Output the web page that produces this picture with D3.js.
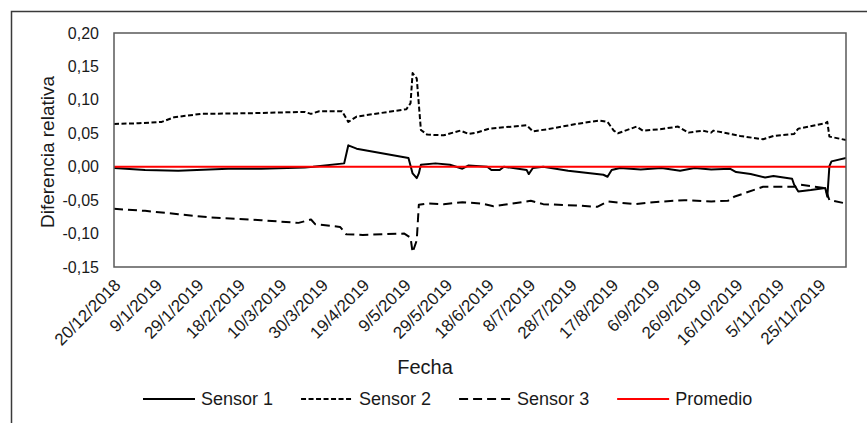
<!DOCTYPE html>
<html>
<head>
<meta charset="utf-8">
<script src="https://cdn.jsdelivr.net/npm/d3@7"></script>
<style>
    body { margin: 0; background: #fff; }
    svg { display: block; font-family: "Liberation Sans", Arial, sans-serif; }
</style>
</head>
<body>
<svg id="chart" width="867" height="423"></svg>
<script>
// Data (date, value)
const sensor1Dates = ['2018-12-20','2019-01-04','2019-01-20','2019-02-13','2019-03-01','2019-03-22','2019-03-26','2019-04-10','2019-04-12','2019-04-16','2019-05-11','2019-05-13','2019-05-15','2019-05-16','2019-05-17','2019-05-24','2019-05-31','2019-06-06','2019-06-09','2019-06-18','2019-06-20','2019-06-24','2019-06-26','2019-07-07','2019-07-08','2019-07-10','2019-07-15','2019-07-27','2019-08-13','2019-08-15','2019-08-17','2019-08-21','2019-08-31','2019-09-10','2019-09-19','2019-09-26','2019-10-04','2019-10-13','2019-10-16','2019-10-23','2019-10-30','2019-11-03','2019-11-12','2019-11-13','2019-11-15','2019-11-21','2019-11-28','2019-11-29','2019-11-30','2019-12-01','2019-12-08'];
const sensor1Values = [-0.002,-0.005,-0.006,-0.003,-0.003,-0.001,0.000,0.005,0.032,0.027,0.013,-0.010,-0.017,-0.010,0.003,0.005,0.003,-0.003,0.002,0.000,-0.005,-0.005,0.000,-0.005,-0.011,-0.002,0.000,-0.006,-0.012,-0.015,-0.005,-0.002,-0.004,-0.002,-0.006,-0.002,-0.004,-0.003,-0.008,-0.011,-0.016,-0.014,-0.018,-0.027,-0.037,-0.035,-0.032,-0.045,0.001,0.008,0.013];

const sensor2Dates = ['2018-12-20','2019-01-01','2019-01-12','2019-01-18','2019-01-31','2019-02-24','2019-03-22','2019-03-25','2019-03-29','2019-04-09','2019-04-12','2019-04-16','2019-05-10','2019-05-12','2019-05-13','2019-05-15','2019-05-17','2019-05-20','2019-05-28','2019-06-05','2019-06-09','2019-06-13','2019-06-19','2019-07-07','2019-07-10','2019-07-17','2019-07-31','2019-08-11','2019-08-15','2019-08-18','2019-08-20','2019-08-29','2019-09-01','2019-09-09','2019-09-18','2019-09-23','2019-09-30','2019-10-04','2019-10-05','2019-10-18','2019-10-29','2019-11-03','2019-11-13','2019-11-15','2019-11-28','2019-11-29','2019-11-30','2019-12-08'];
const sensor2Values = [0.064,0.065,0.067,0.074,0.079,0.080,0.082,0.079,0.083,0.083,0.067,0.075,0.086,0.095,0.140,0.132,0.055,0.048,0.047,0.054,0.049,0.051,0.057,0.062,0.053,0.056,0.064,0.069,0.067,0.054,0.050,0.060,0.054,0.056,0.060,0.051,0.054,0.051,0.054,0.046,0.041,0.046,0.049,0.057,0.065,0.067,0.045,0.040];

const sensor3Dates = ['2018-12-20','2019-01-04','2019-01-20','2019-02-05','2019-03-01','2019-03-19','2019-03-25','2019-03-27','2019-04-08','2019-04-11','2019-04-19','2019-05-09','2019-05-12','2019-05-13','2019-05-15','2019-05-16','2019-05-20','2019-05-28','2019-06-06','2019-06-15','2019-06-21','2019-06-26','2019-07-09','2019-07-15','2019-07-31','2019-08-10','2019-08-15','2019-08-28','2019-09-06','2019-09-21','2019-10-04','2019-10-12','2019-10-15','2019-10-29','2019-11-13','2019-11-16','2019-11-28','2019-11-30','2019-12-08'];
const sensor3Values = [-0.063,-0.066,-0.071,-0.076,-0.080,-0.084,-0.079,-0.086,-0.090,-0.101,-0.102,-0.100,-0.106,-0.128,-0.110,-0.057,-0.055,-0.056,-0.053,-0.055,-0.059,-0.057,-0.051,-0.056,-0.058,-0.060,-0.052,-0.056,-0.053,-0.050,-0.052,-0.051,-0.045,-0.030,-0.030,-0.027,-0.032,-0.050,-0.055];

const promedioDates = ['2018-12-20','2019-12-08'];
const promedioValues = [0, 0];

const xTickLabels = ['20/12/2018','9/1/2019','29/1/2019','18/2/2019','10/3/2019','30/3/2019','19/4/2019','9/5/2019','29/5/2019','18/6/2019','8/7/2019','28/7/2019','17/8/2019','6/9/2019','26/9/2019','16/10/2019','5/11/2019','25/11/2019'];
const yTicks = [-0.15, -0.10, -0.05, 0, 0.05, 0.10, 0.15, 0.20];

const seriesNames = ['Sensor 1', 'Sensor 2', 'Sensor 3', 'Promedio'];

// Layout
const plot = { left: 114, right: 846, top: 33, bottom: 267 };
const parseIso = d3.timeParse('%Y-%m-%d');
const parseTick = d3.timeParse('%d/%m/%Y');
const esLocale = d3.formatLocale({ decimal: ',', thousands: '.', grouping: [3], currency: ['', ' €'], minus: '-' });
const yFormat = esLocale.format('.2f');

const styles = {
    'Sensor 1': { stroke: '#000', dash: null, width: 2 },
    'Sensor 2': { stroke: '#000', dash: '5,2.5', width: 2 },
    'Sensor 3': { stroke: '#000', dash: '9,5', width: 2 },
    'Promedio': { stroke: '#ff0000', dash: null, width: 2 }
};

const series = [
    { name: 'Sensor 1', dates: sensor1Dates, values: sensor1Values },
    { name: 'Sensor 2', dates: sensor2Dates, values: sensor2Values },
    { name: 'Sensor 3', dates: sensor3Dates, values: sensor3Values },
    { name: 'Promedio', dates: promedioDates, values: promedioValues }
].map(s => ({ name: s.name, points: s.dates.map((d, i) => ({ date: parseIso(d), value: s.values[i] })) }));

const svg = d3.select('#chart');

// Outer chart border (cropped on right/bottom in the reference)
svg.append('rect')
    .attr('x', 11.5).attr('y', 11.5)
    .attr('width', 900).attr('height', 500)
    .attr('fill', 'none')
    .attr('stroke', '#3a3a3a')
    .attr('stroke-width', 1.5);

const x = d3.scaleTime()
    .domain([parseIso('2018-12-20'), parseIso('2019-12-08')])
    .range([plot.left, plot.right]);

const y = d3.scaleLinear()
    .domain([-0.15, 0.20])
    .range([plot.bottom, plot.top]);

// Y axis labels
const yAxis = d3.axisLeft(y)
    .tickValues(yTicks)
    .tickFormat(v => yFormat(v).replace('-0,00', '0,00'))
    .tickSize(0)
    .tickPadding(15);

const yG = svg.append('g')
    .attr('transform', `translate(${plot.left},0)`)
    .call(yAxis);
yG.select('.domain').remove();
yG.selectAll('text')
    .style('font-size', '16px')
    .style('fill', '#1a1a1a');

// X axis labels
const xAxis = d3.axisBottom(x)
    .tickValues(xTickLabels.map(parseTick))
    .tickFormat((d, i) => xTickLabels[i])
    .tickSize(0);

const xG = svg.append('g')
    .attr('transform', `translate(0,${plot.bottom})`)
    .call(xAxis);
xG.select('.domain').remove();
xG.selectAll('text')
    .style('font-size', '17px')
    .style('fill', '#1a1a1a')
    .attr('text-anchor', 'end')
    .attr('dy', '0.35em')
    .attr('y', 0)
    .attr('transform', 'translate(3,15) rotate(-45)');

// Lines
const line = d3.line()
    .x(d => x(d.date))
    .y(d => y(d.value));

svg.append('clipPath').attr('id', 'plotClip')
    .append('rect')
    .attr('x', plot.left).attr('y', plot.top)
    .attr('width', plot.right - plot.left).attr('height', plot.bottom - plot.top);

const linesG = svg.append('g').attr('clip-path', 'url(#plotClip)');

// draw sensors first, promedio on top
linesG.selectAll('path')
    .data(series)
    .join('path')
    .attr('d', d => line(d.points))
    .attr('fill', 'none')
    .attr('stroke', d => styles[d.name].stroke)
    .attr('stroke-width', d => styles[d.name].width)
    .attr('stroke-dasharray', d => styles[d.name].dash)
    .attr('stroke-linejoin', 'round');

// Plot area border
svg.append('rect')
    .attr('x', plot.left).attr('y', plot.top)
    .attr('width', plot.right - plot.left).attr('height', plot.bottom - plot.top)
    .attr('fill', 'none')
    .attr('stroke', '#595959')
    .attr('stroke-width', 1.5);

// Axis titles
svg.append('text')
    .attr('x', 425).attr('y', 374)
    .attr('text-anchor', 'middle')
    .style('font-size', '20px')
    .style('fill', '#1a1a1a')
    .text('Fecha');

svg.append('text')
    .attr('transform', 'translate(54,152) rotate(-90)')
    .attr('text-anchor', 'middle')
    .style('font-size', '19px')
    .style('fill', '#1a1a1a')
    .text('Diferencia relativa');

// Legend
const legend = svg.append('g');
let lx = 143;
const ly = 399;
seriesNames.forEach(name => {
    const st = styles[name];
    legend.append('line')
        .attr('x1', lx).attr('x2', lx + 52)
        .attr('y1', ly).attr('y2', ly)
        .attr('stroke', st.stroke)
        .attr('stroke-width', st.width)
        .attr('stroke-dasharray', st.dash);
    const t = legend.append('text')
        .attr('x', lx + 58).attr('y', ly + 6)
        .style('font-size', '18px')
        .style('fill', '#1a1a1a')
        .text(name);
    lx += 58 + t.node().getComputedTextLength() + 28;
});
</script>
</body>
</html>
